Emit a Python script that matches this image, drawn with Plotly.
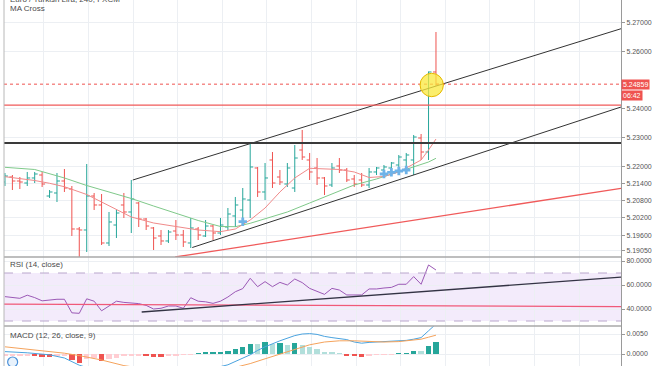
import plotly.graph_objects as go
from plotly.subplots import make_subplots

# ---------------- data ----------------
bars = list(range(59))
opens = [5.21450, 5.21624, 5.21485, 5.21415, 5.21590, 5.21694, 5.20962, 5.21067, 5.21485, 5.21206,
         5.19813, 5.19778, 5.20962, 5.20649, 5.19325, 5.19952, 5.20649, 5.20405, 5.20718, 5.20161,
         5.19848, 5.19569, 5.19395, 5.19743, 5.19604, 5.19325, 5.19813, 5.19569, 5.19917, 5.19673,
         5.19882, 5.20266, 5.20475, 5.20823, 5.21938, 5.21102, 5.22217, 5.21624, 5.21380, 5.21241,
         5.22565, 5.22217, 5.21938, 5.21590, 5.21346, 5.22008, 5.21868, 5.21555, 5.21520, 5.21346,
         5.21799, 5.21868, 5.21938, 5.22042, 5.22217, 5.22217, 5.22983, 5.22495, 5.25283]
highs = [5.21764, 5.21694, 5.21624, 5.21799, 5.21799, 5.21799, 5.21171, 5.21764, 5.21903, 5.21311,
         5.19882, 5.22077, 5.21067, 5.21032, 5.20405, 5.20475, 5.21067, 5.21520, 5.20753, 5.20196,
         5.19882, 5.19778, 5.19778, 5.20126, 5.19778, 5.20196, 5.19882, 5.20126, 5.19952, 5.20196,
         5.20544, 5.20928, 5.21241, 5.22809, 5.21973, 5.22112, 5.22495, 5.21868, 5.22112, 5.22739,
         5.23262, 5.22461, 5.22286, 5.21624, 5.22112, 5.22286, 5.21938, 5.21694, 5.21764, 5.21938,
         5.21973, 5.22042, 5.22147, 5.22391, 5.22461, 5.23088, 5.23122, 5.25300, 5.26676]
lows = [5.21311, 5.21171, 5.21206, 5.21311, 5.21415, 5.21276, 5.20893, 5.20753, 5.21102, 5.19569,
        5.18663, 5.19011, 5.20475, 5.19255, 5.19220, 5.19499, 5.20196, 5.19673, 5.19882, 5.19778,
        5.19081, 5.19255, 5.19325, 5.19429, 5.19186, 5.19151, 5.19429, 5.19534, 5.19429, 5.19604,
        5.19778, 5.19882, 5.20126, 5.20196, 5.20928, 5.20823, 5.21241, 5.21346, 5.21276, 5.21102,
        5.22217, 5.21520, 5.21346, 5.20997, 5.21276, 5.21764, 5.21450, 5.21276, 5.21276, 5.21241,
        5.21694, 5.21694, 5.21799, 5.21868, 5.21868, 5.21694, 5.22217, 5.22217, 5.24795]
closes = [5.21659, 5.21485, 5.21450, 5.21590, 5.21729, 5.21380, 5.21102, 5.21485, 5.21241, 5.19813,
          5.19778, 5.20962, 5.20649, 5.19325, 5.20057, 5.20370, 5.20405, 5.20858, 5.20161, 5.19917,
          5.19499, 5.19395, 5.19708, 5.19604, 5.19360, 5.19848, 5.19604, 5.19917, 5.19673, 5.19952,
          5.20335, 5.20649, 5.20858, 5.21973, 5.21102, 5.21590, 5.21415, 5.21450, 5.21938, 5.22286,
          5.22321, 5.21799, 5.21590, 5.21311, 5.21938, 5.21868, 5.21520, 5.21380, 5.21346, 5.21799,
          5.21938, 5.21973, 5.22112, 5.22321, 5.22391, 5.23018, 5.22495, 5.25283, 5.24859]

ma_fast_x = [0, 4, 6, 8, 11, 14, 17, 20, 23, 26, 29, 31, 33, 35, 37, 39, 41, 43, 45, 47, 49, 51, 53, 55, 56, 57, 58]
ma_fast = [5.21635, 5.21502, 5.21405, 5.21286, 5.21015, 5.20614, 5.20231, 5.20022, 5.19900, 5.19778,
           5.19719, 5.19813, 5.20126, 5.20544, 5.21102, 5.21590, 5.21927, 5.21903, 5.21886, 5.21799,
           5.21607, 5.21642, 5.21799, 5.22077, 5.22217, 5.22565, 5.22948]
ma_slow_x = [0, 4, 8, 11, 14, 17, 20, 23, 26, 29, 31, 33, 35, 38, 41, 44, 47, 50, 53, 56, 57, 58]
ma_slow = [5.21962, 5.21886, 5.21590, 5.21328, 5.21102, 5.20875, 5.20614, 5.20370, 5.20109, 5.19900,
           5.19893, 5.20011, 5.20161, 5.20405, 5.20718, 5.21032, 5.21346, 5.21555, 5.21799, 5.22042,
           5.22147, 5.22276]
cross_x = [32, 51, 52, 53, 54]
cross_y = [5.20067, 5.21729, 5.21788, 5.21833, 5.21868]

# drawings (bar index, price)
upper_channel = ([17.2, 82.9], [5.21519, 5.26790])
lower_channel = ([25.2, 82.9], [5.19167, 5.24063])
red_trend = ([22.9, 82.9], [5.18837, 5.21230])
red_level = 5.2413
black_level = 5.2281
last_price = 5.24859

price_ticks = [5.27, 5.26, 5.24, 5.23, 5.22, 5.214, 5.208, 5.202, 5.196, 5.1905]
price_labels = ["5.27000", "5.26000", "5.24000", "5.23000", "5.22000", "5.21400", "5.20800",
                "5.20200", "5.19600", "5.19050"]

rsi = [50.3, 49.5, 48.9, 51.5, 49.5, 46.8, 47.5, 48.1, 48.1, 36.8, 36.4, 48.5, 46.5, 38.5, 42.5,
       46.5, 45.5, 45.0, 44.5, 43.0, 40.0, 40.6, 42.5, 42.5, 40.6, 49.4, 46.5, 46.0, 44.7, 46.5,
       50.0, 54.4, 57.0, 65.6, 58.6, 62.8, 58.6, 62.2, 60.0, 65.0, 62.0, 57.2, 55.0, 52.2, 57.2,
       55.8, 51.7, 51.7, 51.7, 56.7, 56.7, 57.5, 58.0, 60.6, 60.6, 67.0, 60.6, 76.7, 72.5]
rsi_trend = ([18.4, 82.9], [37.5, 66.5])
rsi_red = ([-0.2, 82.9], [44.0, 42.0])
rsi_ticks = [40, 60, 80]
rsi_labels = ["40.0000", "60.0000", "80.0000"]

macd_x = [0, 3, 6, 8, 10, 13, 17, 22, 26, 30, 32, 33, 34, 35, 37, 39, 40, 41, 42, 43, 44, 45, 46,
          47, 48, 49, 50, 51, 52, 53, 54, 55, 56, 57, 58]
macd = [0.0006, 0.0003, -0.0002, -0.0010, -0.0028, -0.0045, -0.0055, -0.0052, -0.0045, -0.0027,
        -0.0011, -0.0002, 0.0009, 0.0018, 0.0033, 0.0046, 0.0050, 0.0051, 0.0049, 0.0044, 0.0041,
        0.0039, 0.0036, 0.0030, 0.0027, 0.0029, 0.0030, 0.0030, 0.0031, 0.0032, 0.0034, 0.0037,
        0.0041, 0.0058, 0.0075]
signal_x = [0, 4, 8, 10, 13, 16, 20, 24, 27, 30, 33, 35, 37, 39, 41, 43, 45, 47, 49, 51, 53, 55, 56, 57, 58]
signal = [0.0018, 0.0010, 0.0002, -0.0004, -0.0015, -0.0029, -0.0040, -0.0045, -0.0045, -0.0038,
          -0.0024, -0.0012, 0.0000, 0.0012, 0.0023, 0.0030, 0.0033, 0.0033, 0.0031, 0.0030, 0.0031,
          0.0034, 0.0037, 0.0042, 0.0047]
hist = [-0.0003, -0.0003, -0.0003, -0.0003, -0.0005, -0.0007, -0.0008, -0.0004, -0.0003, -0.0015,
        -0.0022, -0.0012, -0.0009, -0.0018, -0.0012, -0.0009, -0.0006, -0.0004, -0.0003, -0.0006,
        -0.0008, -0.00085, -0.0004, -0.0003, -0.0002, -0.0001, 0.0002, 0.0003, 0.00035, 0.0004,
        0.0008, 0.0012, 0.0017, 0.0025, 0.0024, 0.0029, 0.0026, 0.0028, 0.0022, 0.0027,
        0.0022, 0.0018, 0.00125, 0.0006, 0.0004, 0.0002, -0.0004, -0.0006, -0.00065, -0.0004,
        -0.0002, -0.0001, -0.00005, 0.0001, 0.0002, 0.0008, 0.0007, 0.0021, 0.0029]
macd_ticks = [0.0, 0.005]
macd_labels = ["0.0000", "0.0050"]

title_text = "Euro / Turkish Lira, 240, FXCM"

# ---------------- styling ----------------
UP, DOWN = "#26a69a", "#ef5350"
hist_colors = []
for i, v in enumerate(hist):
    prev = hist[i - 1] if i > 0 else v
    if v >= 0:
        hist_colors.append("#26a69a" if v > prev else "#b2dfdb")
    else:
        hist_colors.append("#ef5350" if v < prev else "#ffcdd2")

W, H = 654, 366
FONT = "Liberation Sans, Arial, sans-serif"
fig = make_subplots(rows=3, cols=1, shared_xaxes=True, vertical_spacing=0,
                    row_heights=[257, 69, 40])

fig.add_trace(go.Ohlc(x=bars, open=opens, high=highs, low=lows, close=closes,
                      increasing_line_color=UP, decreasing_line_color=DOWN,
                      line_width=1, tickwidth=0.4, showlegend=False, hoverinfo="skip"), row=1, col=1)
fig.add_trace(go.Scatter(x=ma_slow_x, y=ma_slow, mode="lines", line=dict(color="#7fc98a", width=1),
                         showlegend=False, hoverinfo="skip"), row=1, col=1)
fig.add_trace(go.Scatter(x=ma_fast_x, y=ma_fast, mode="lines", line=dict(color="#f08a8a", width=1),
                         showlegend=False, hoverinfo="skip"), row=1, col=1)
fig.add_trace(go.Scatter(x=cross_x, y=cross_y, mode="markers",
                         marker=dict(symbol="cross", size=7, color="#6fb3e8", line=dict(width=0)),
                         showlegend=False, hoverinfo="skip"), row=1, col=1)
for xs, ys, col, w in [(upper_channel[0], upper_channel[1], "#333333", 1),
                       (lower_channel[0], lower_channel[1], "#333333", 1),
                       (red_trend[0], red_trend[1], "#f05a5a", 1.3)]:
    fig.add_trace(go.Scatter(x=xs, y=ys, mode="lines", line=dict(color=col, width=w),
                             showlegend=False, hoverinfo="skip", cliponaxis=True), row=1, col=1)

# RSI
fig.add_trace(go.Scatter(x=bars, y=rsi, mode="lines", line=dict(color="#9b59b6", width=1),
                         showlegend=False, hoverinfo="skip"), row=2, col=1)
fig.add_trace(go.Scatter(x=rsi_red[0], y=rsi_red[1], mode="lines", line=dict(color="#f05a78", width=1.3),
                         showlegend=False, hoverinfo="skip"), row=2, col=1)
fig.add_trace(go.Scatter(x=rsi_trend[0], y=rsi_trend[1], mode="lines", line=dict(color="#333344", width=1.3),
                         showlegend=False, hoverinfo="skip"), row=2, col=1)

# MACD
fig.add_trace(go.Bar(x=bars, y=hist, marker=dict(color=hist_colors, line=dict(width=0)), width=0.72,
                     showlegend=False, hoverinfo="skip"), row=3, col=1)
fig.add_trace(go.Scatter(x=macd_x, y=macd, mode="lines", line=dict(color="#4aa3df", width=1),
                         showlegend=False, hoverinfo="skip"), row=3, col=1)
fig.add_trace(go.Scatter(x=signal_x, y=signal, mode="lines", line=dict(color="#f5a35c", width=1),
                         showlegend=False, hoverinfo="skip"), row=3, col=1)

grid = "#eceff3"
font_axis = dict(family=FONT, size=7, color="#555555")
for r in (1, 2, 3):
    fig.update_xaxes(row=r, col=1, range=[-0.13, 82.9], showticklabels=False, tickmode="linear",
                     tick0=5.25, dtick=6, showgrid=True, gridcolor=grid, gridwidth=1,
                     zeroline=False, showline=False, ticks="", fixedrange=True)
fig.update_xaxes(row=1, col=1, rangeslider_visible=False)

axis_common = dict(side="right", tickmode="array", showgrid=True, gridcolor=grid, zeroline=False,
                   showline=True, linecolor="#9a9a9a", ticks="outside", ticklen=3,
                   tickcolor="#9a9a9a", tickfont=font_axis)
fig.update_yaxes(row=1, col=1, range=[5.18837, 5.27791], tickvals=price_ticks,
                 ticktext=price_labels, **axis_common)
fig.update_yaxes(row=2, col=1, range=[25.83, 83.33], tickvals=rsi_ticks, ticktext=rsi_labels,
                 **axis_common)
fig.update_yaxes(row=3, col=1, range=[-0.003, 0.007], tickvals=macd_ticks, ticktext=macd_labels,
                 **axis_common)

shapes = [
    dict(type="line", xref="x domain", yref="y", x0=0, x1=1, y0=red_level, y1=red_level,
         line=dict(color="#f05a5a", width=1.2)),
    dict(type="line", xref="x domain", yref="y", x0=0, x1=1, y0=black_level, y1=black_level,
         line=dict(color="#3a3a3a", width=2)),
    dict(type="line", xref="x domain", yref="y", x0=0, x1=1, y0=last_price, y1=last_price,
         line=dict(color="#ef5350", width=1, dash="dot")),
    dict(type="circle", xref="x", yref="y", x0=55.86, x1=59.0, y0=5.24422, y1=5.25238,
         fillcolor="rgba(250,232,60,0.75)", line=dict(color="#e5b800", width=1)),
    dict(type="rect", xref="x2 domain", yref="y2", x0=0, x1=1, y0=30, y1=70,
         fillcolor="rgba(155,89,220,0.12)", line=dict(width=0), layer="below"),
    dict(type="line", xref="x2 domain", yref="y2", x0=0, x1=1, y0=70, y1=70,
         line=dict(color="#b9a6cc", width=1, dash="dash")),
    dict(type="line", xref="x2 domain", yref="y2", x0=0, x1=1, y0=30, y1=30,
         line=dict(color="#b9a6cc", width=1, dash="dash")),
    dict(type="line", xref="paper", yref="paper", x0=0, x1=1, y0=(H - 257) / H, y1=(H - 257) / H,
         line=dict(color="#a8a8a8", width=1.5)),
    dict(type="line", xref="paper", yref="paper", x0=0, x1=1, y0=(H - 326) / H, y1=(H - 326) / H,
         line=dict(color="#a8a8a8", width=1.5)),
    dict(type="line", xref="paper", yref="paper", x0=0, x1=0, y0=0, y1=1,
         line=dict(color="#b8b8b8", width=1)),
    # small event bubble at the bottom-left of the MACD pane
    dict(type="circle", xref="paper", yref="paper", xsizemode="pixel", ysizemode="pixel",
         xanchor=0.014, yanchor=(H - 362) / H, x0=-5, x1=5, y0=-5, y1=5,
         fillcolor="#e8f2fc", line=dict(color="#4a90d9", width=1.2)),
]

label_font = dict(family=FONT, size=8, color="#4a4a4a")
annotations = [
    dict(text=title_text, xref="paper", yref="paper", x=0.006, y=(H + 1) / H, xanchor="left",
         yanchor="middle", showarrow=False, font=label_font),
    dict(text="MA Cross", xref="paper", yref="paper", x=0.006, y=(H - 8) / H, xanchor="left",
         yanchor="middle", showarrow=False, font=label_font),
    dict(text="RSI (14, close)", xref="paper", yref="paper", x=0.006, y=(H - 264) / H,
         xanchor="left", yanchor="middle", showarrow=False, font=label_font),
    dict(text="MACD (12, 26, close, 9)", xref="paper", yref="paper", x=0.006, y=(H - 335) / H,
         xanchor="left", yanchor="middle", showarrow=False, font=label_font),
    dict(text="5.24859", xref="paper", yref="y", x=1.0, y=last_price, xanchor="left",
         yanchor="middle", showarrow=False, bgcolor="#ef5350", borderpad=1,
         font=dict(family=FONT, size=7, color="white")),
    dict(text="06:42", xref="paper", yref="y", x=1.0, y=5.24481, xanchor="left",
         yanchor="middle", showarrow=False, bgcolor="#ef5350", borderpad=1,
         font=dict(family=FONT, size=7, color="white")),
]

fig.update_layout(width=W, height=H, margin=dict(l=4, r=33, t=0, b=0),
                  paper_bgcolor="white", plot_bgcolor="white", shapes=shapes,
                  annotations=annotations, bargap=0, showlegend=False,
                  font=dict(family=FONT, size=8, color="#555555"))

fig.write_html("out.html", config={"displayModeBar": False},
               post_script="document.body.style.margin='0';")
